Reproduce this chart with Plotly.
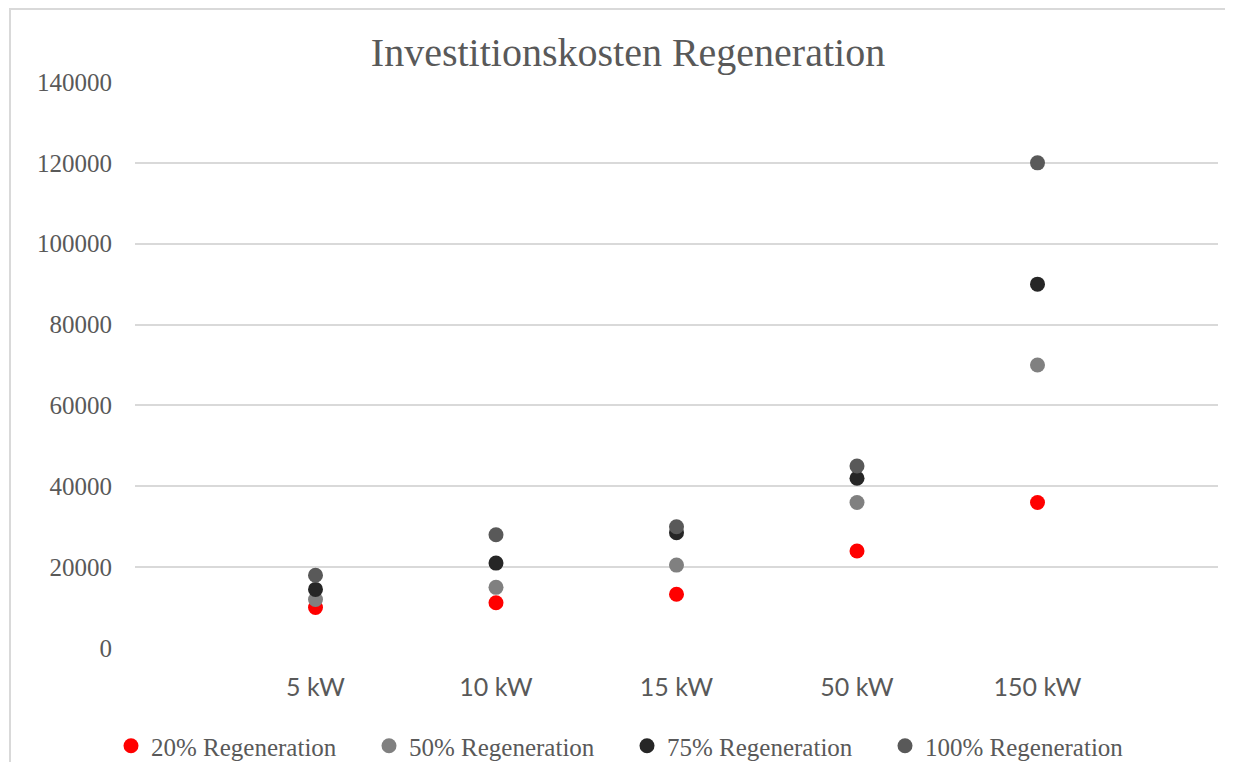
import plotly.graph_objects as go

categories = ["5 kW", "10 kW", "15 kW", "50 kW", "150 kW"]
series_names = ["20% Regeneration", "50% Regeneration", "75% Regeneration", "100% Regeneration"]
reg20 = [10000, 11200, 13300, 24000, 36000]
reg50 = [12000, 15000, 20500, 36000, 70000]
reg75 = [14500, 21000, 28500, 42000, 90000]
reg100 = [18000, 28000, 30000, 45000, 120000]
y_ticks = [0, 20000, 40000, 60000, 80000, 100000, 120000, 140000]

colors = ["#FF0000", "#808080", "#262626", "#595959"]
serif = "Liberation Serif"
txt = "#595959"

W, H = 1233, 762
OFF = 8  # page body margin offset
L, R, T, B = 135 - OFF, W - (1218 - OFF), 82 - OFF, H - (648 - OFF)
PW, PH = W - L - R, H - T - B

fig = go.Figure()
for name, vals, col in zip(series_names, [reg20, reg50, reg75, reg100], colors):
    fig.add_trace(go.Scatter(
        x=categories, y=vals, mode="markers", name=name,
        marker=dict(size=15, color=col, line=dict(width=0)),
    ))

fig.update_layout(
    width=W, height=H,
    margin=dict(l=L, r=R, t=T, b=B),
    paper_bgcolor="white", plot_bgcolor="white",
    title=dict(text="Investitionskosten Regeneration", x=(628 - OFF) / W, xanchor="center",
               y=1 - (52 - OFF) / H, yref="container", yanchor="middle",
               font=dict(family=serif, size=40, color=txt)),
    showlegend=True,
    legend=dict(orientation="h", x=(111 - OFF) / W, xref="container", xanchor="left",
                y=(H - (746 - OFF)) / H, yref="container", yanchor="middle",
                font=dict(family=serif, size=25, color=txt),
                itemwidth=30, traceorder="normal", entrywidth=213, entrywidthmode="pixels"),
    xaxis=dict(type="category", range=[-1, 5], showgrid=False, zeroline=False,
               showline=False, ticks="", ticklabelstandoff=22,
               tickfont=dict(family="Lato", size=25, color=txt)),
    yaxis=dict(range=[0, 140000], tickvals=y_ticks, ticktext=[str(v) for v in y_ticks],
               showgrid=True, gridcolor="#D9D9D9", gridwidth=1.5, zeroline=False,
               showline=False, ticks="", ticklabelstandoff=22,
               tickfont=dict(family=serif, size=25, color=txt)),
    shapes=[dict(type="rect", xref="paper", yref="paper", layer="below",
                 x0=(10 - OFF - L) / PW, x1=1.2, y0=-0.5, y1=1 + (T - (9 - OFF)) / PH,
                 line=dict(color="#D9D9D9", width=2))],
)

fig.write_html("out.html")
